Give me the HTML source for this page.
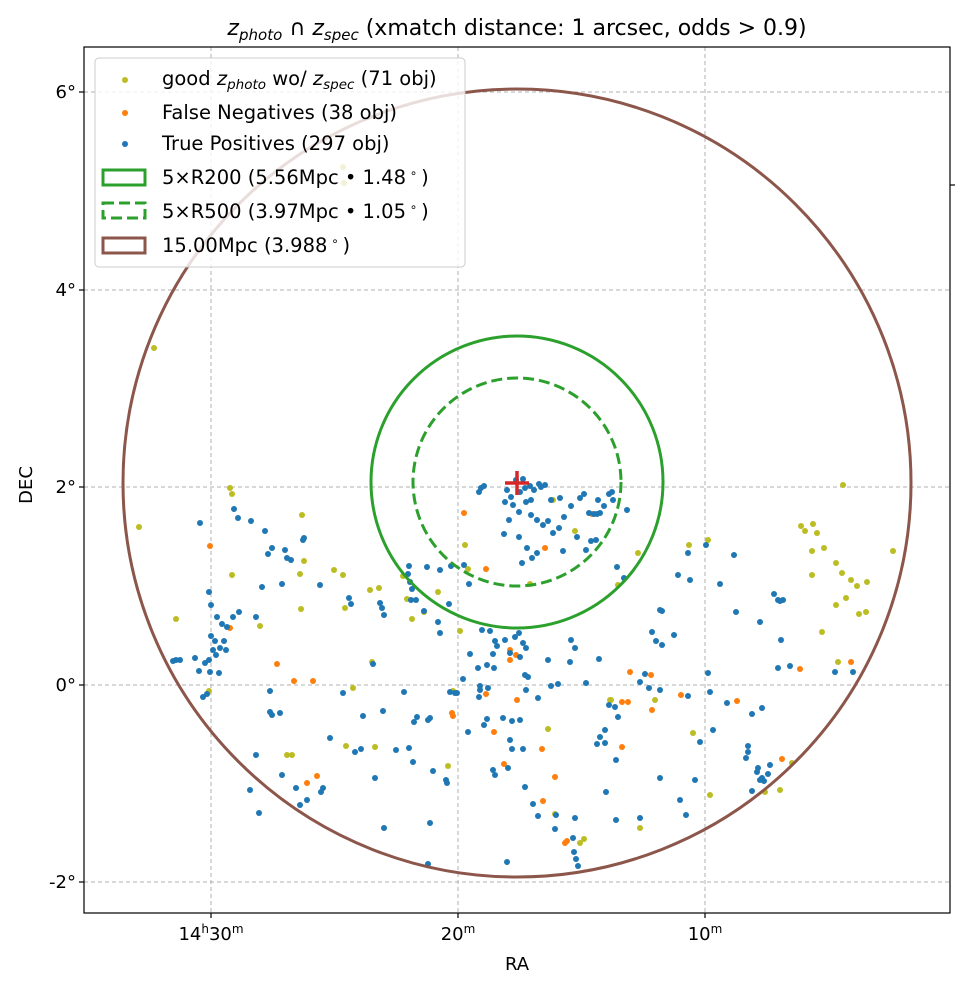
<!DOCTYPE html>
<html><head><meta charset="utf-8"><style>
body{margin:0;background:#fff}
svg{display:block;font-family:"DejaVu Sans","Liberation Sans",sans-serif}
</style></head><body>
<svg id="s" width="965" height="989" viewBox="0 0 965 989" xmlns="http://www.w3.org/2000/svg">
<rect width="965" height="989" fill="#fff"/>
<g stroke="#b0b0b0" stroke-width="1" stroke-dasharray="4,3">
<line x1="211" y1="47" x2="211" y2="913"/><line x1="458" y1="47" x2="458" y2="913"/><line x1="705" y1="47" x2="705" y2="913"/>
<line x1="84" y1="92" x2="950" y2="92"/><line x1="84" y1="290" x2="950" y2="290"/><line x1="84" y1="487" x2="950" y2="487"/><line x1="84" y1="685" x2="950" y2="685"/><line x1="84" y1="882" x2="950" y2="882"/>
</g>
<g id="pts"></g>
<circle cx="517" cy="483" r="394" fill="none" stroke="#8c564b" stroke-width="3"/>
<circle cx="517" cy="482" r="146" fill="none" stroke="#2ca02c" stroke-width="3"/>
<circle cx="517" cy="482" r="104" fill="none" stroke="#2ca02c" stroke-width="3" stroke-dasharray="11,5"/>
<g stroke="#d62728" stroke-width="3.5"><line x1="505" y1="483" x2="529" y2="483"/><line x1="517" y1="471" x2="517" y2="495"/></g>
<rect x="84" y="47" width="866" height="866" fill="none" stroke="#000" stroke-width="1.2"/>
<g stroke="#000" stroke-width="1.2">
<line x1="211" y1="913" x2="211" y2="918"/><line x1="458" y1="913" x2="458" y2="918"/><line x1="705" y1="913" x2="705" y2="918"/>
<line x1="79" y1="92" x2="84" y2="92"/><line x1="79" y1="290" x2="84" y2="290"/><line x1="79" y1="487" x2="84" y2="487"/><line x1="79" y1="685" x2="84" y2="685"/><line x1="79" y1="882" x2="84" y2="882"/>
<line x1="950" y1="185" x2="955" y2="185"/>
</g>
<g font-size="18" fill="#000">
<text x="211" y="940" text-anchor="middle">14<tspan font-size="12" dy="-7">h</tspan><tspan dy="7">30</tspan><tspan font-size="12" dy="-7">m</tspan></text>
<text x="458" y="940" text-anchor="middle">20<tspan font-size="12" dy="-7">m</tspan></text>
<text x="705" y="940" text-anchor="middle">10<tspan font-size="12" dy="-7">m</tspan></text>
<text x="76" y="98" text-anchor="end">6°</text><text x="76" y="296" text-anchor="end">4°</text><text x="76" y="493" text-anchor="end">2°</text><text x="76" y="691" text-anchor="end">0°</text><text x="76" y="888" text-anchor="end">-2°</text>
<text x="517" y="970" text-anchor="middle">RA</text>
<text transform="translate(32,485) rotate(-90)" text-anchor="middle">DEC</text>
<text x="517" y="35" text-anchor="middle" font-size="22"><tspan font-style="italic">z</tspan><tspan font-size="15" dy="5" font-style="italic">photo</tspan><tspan dy="-5"> ∩ </tspan><tspan font-style="italic">z</tspan><tspan font-size="15" dy="5" font-style="italic">spec</tspan><tspan dy="-5"> (xmatch distance: 1 arcsec, odds &gt; 0.9)</tspan></text>
</g>
<rect x="95" y="58" width="370" height="209" rx="4" fill="#fff" fill-opacity="0.8" stroke="#ccc"/>
<g font-size="19.5" fill="#000">
<circle cx="125" cy="80" r="3" fill="#bcbd22"/><circle cx="125" cy="113" r="3" fill="#ff7f0e"/><circle cx="125" cy="144" r="3" fill="#1f77b4"/>
<text x="162" y="85">good <tspan font-style="italic">z</tspan><tspan font-size="13.5" dy="4" font-style="italic">photo</tspan><tspan dy="-4"> wo/ </tspan><tspan font-style="italic">z</tspan><tspan font-size="13.5" dy="4" font-style="italic">spec</tspan><tspan dy="-4"> (71 obj)</tspan></text>
<text x="162" y="119">False Negatives (38 obj)</text>
<text x="162" y="150">True Positives (297 obj)</text>
<rect x="103" y="170" width="42" height="15" fill="none" stroke="#2ca02c" stroke-width="3"/>
<rect x="103" y="203" width="42" height="15" fill="none" stroke="#2ca02c" stroke-width="3" stroke-dasharray="11,5"/>
<rect x="103" y="238" width="42" height="15" fill="none" stroke="#8c564b" stroke-width="3"/>
<text x="162" y="184">5×R200 (5.56Mpc • 1.48<tspan font-size="12" dy="-7"> ∘ </tspan><tspan dy="7">)</tspan></text>
<text x="162" y="218">5×R500 (3.97Mpc • 1.05<tspan font-size="12" dy="-7"> ∘ </tspan><tspan dy="7">)</tspan></text>
<text x="162" y="252">15.00Mpc (3.988<tspan font-size="12" dy="-7"> ∘ </tspan><tspan dy="7">)</tspan></text>
</g>
</svg>
<script>
const B=[[481,488],[484,486],[479,492],[507,490],[511,497],[520,492],[525,488],[530,486],[534,490],[541,487],[545,485],[513,505],[519,512],[526,502],[531,515],[537,520],[543,525],[548,521],[553,533],[559,528],[509,520],[504,534],[519,537],[527,548],[522,563],[532,558],[564,517],[571,506],[580,498],[584,494],[598,500],[604,506],[609,494],[612,492],[613,500],[589,513],[594,514],[597,514],[600,513],[627,510],[591,541],[596,540],[586,550],[577,537],[617,567],[624,578],[560,498],[551,500],[505,502],[516,480],[523,479],[539,484],[531,500],[563,551],[537,553],[200,523],[234,509],[238,518],[251,521],[265,531],[285,550],[291,560],[304,538],[282,584],[256,617],[233,617],[217,617],[209,592],[222,624],[227,627],[211,636],[215,641],[224,641],[220,648],[213,650],[216,655],[209,660],[205,663],[195,658],[180,660],[176,660],[199,671],[210,672],[219,673],[226,650],[211,605],[239,612],[262,587],[268,554],[272,548],[287,558],[303,540],[320,585],[349,598],[351,604],[380,603],[382,608],[384,615],[409,566],[408,574],[410,582],[412,589],[411,600],[416,600],[427,567],[440,570],[451,566],[464,565],[469,584],[449,604],[424,611],[438,622],[440,633],[173,661],[203,697],[207,694],[270,691],[270,712],[272,715],[280,713],[282,775],[256,755],[250,790],[259,813],[296,788],[300,805],[307,800],[321,792],[323,788],[330,738],[343,693],[355,752],[361,749],[363,716],[373,664],[375,778],[383,711],[384,828],[396,750],[404,692],[409,748],[413,762],[414,722],[417,717],[428,720],[430,718],[433,771],[430,823],[428,864],[450,692],[455,693],[457,693],[463,679],[470,654],[478,668],[487,665],[494,668],[493,654],[482,630],[490,631],[495,641],[497,646],[510,653],[505,640],[515,637],[519,633],[523,643],[526,648],[520,657],[525,675],[528,677],[526,690],[503,718],[512,721],[484,725],[510,740],[520,720],[523,749],[525,787],[533,804],[538,816],[556,815],[575,818],[573,838],[574,852],[576,859],[578,866],[555,829],[507,862],[493,770],[495,775],[508,768],[487,719],[468,732],[479,697],[480,686],[480,690],[488,688],[538,698],[551,686],[558,684],[570,662],[571,640],[575,648],[599,659],[615,707],[618,717],[640,682],[645,674],[649,688],[660,690],[652,632],[656,641],[662,645],[674,635],[660,610],[662,611],[678,575],[688,553],[690,580],[706,545],[720,584],[734,555],[736,612],[774,594],[778,600],[783,600],[780,601],[760,622],[781,640],[778,668],[790,666],[835,672],[853,672],[762,708],[752,714],[727,703],[710,692],[708,673],[748,746],[748,752],[746,758],[758,768],[757,772],[752,791],[760,780],[762,778],[764,781],[768,774],[770,765],[713,730],[700,742],[680,800],[686,815],[695,780],[660,778],[640,818],[616,820],[606,792],[616,760],[605,743],[600,737],[597,744],[605,730],[609,705],[586,683],[512,749],[446,780],[447,783],[548,660],[688,696]];
const O=[[210,546],[230,628],[277,664],[294,681],[307,783],[317,776],[313,681],[545,548],[464,513],[486,569],[452,713],[453,716],[494,732],[504,764],[517,700],[542,749],[555,777],[543,801],[565,843],[567,841],[630,672],[622,702],[628,702],[652,710],[651,675],[681,695],[737,701],[782,759],[800,669],[851,662],[592,514],[486,694],[510,650],[516,655],[622,747],[510,660]];
const Y=[[154,348],[139,527],[176,619],[209,691],[232,494],[230,488],[232,575],[260,626],[287,755],[292,755],[302,515],[304,561],[334,570],[343,575],[345,608],[370,590],[372,662],[379,588],[403,576],[407,599],[412,619],[424,612],[438,592],[460,631],[465,545],[468,569],[375,747],[353,688],[448,766],[453,691],[530,584],[548,729],[555,814],[580,843],[584,839],[610,700],[611,700],[640,828],[553,500],[575,531],[618,585],[638,553],[689,545],[708,540],[710,795],[655,700],[801,526],[805,531],[813,524],[817,533],[812,551],[824,548],[812,575],[836,563],[851,580],[842,573],[843,485],[857,586],[859,614],[866,612],[893,551],[867,582],[836,605],[822,632],[846,598],[838,662],[693,733],[765,792],[780,790],[792,763],[301,609],[300,574],[346,746],[343,167],[344,183]];
let h='';
for(const[x,y]of Y)h+=`<circle cx="${x}" cy="${y}" r="3" fill="#bcbd22"/>`;
for(const[x,y]of O)h+=`<circle cx="${x}" cy="${y}" r="3" fill="#ff7f0e"/>`;
for(const[x,y]of B)h+=`<circle cx="${x}" cy="${y}" r="3" fill="#1f77b4"/>`;
document.getElementById('pts').innerHTML=h;
</script>
</body></html>
